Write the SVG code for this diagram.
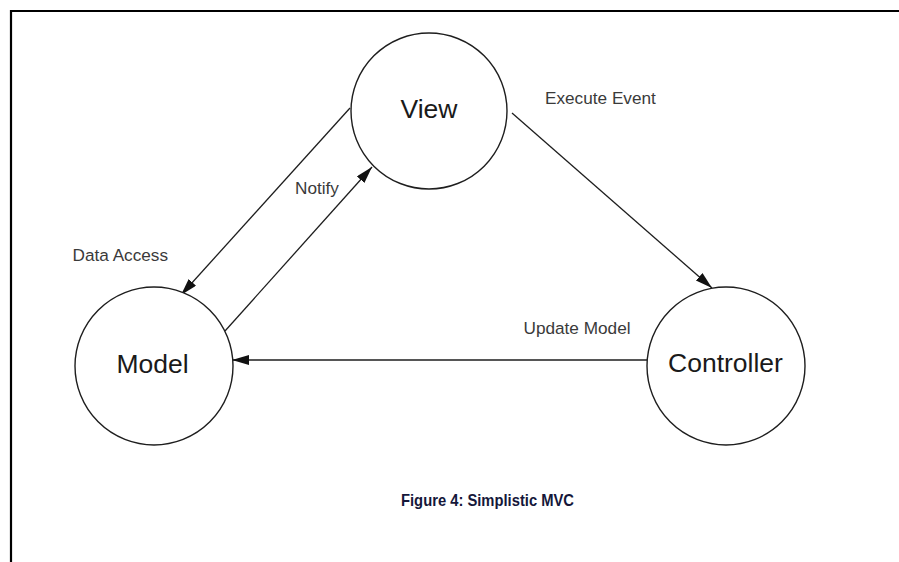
<svg xmlns="http://www.w3.org/2000/svg" width="899" height="562" viewBox="0 0 899 562">
  <style>
    .node circle { fill: #ffffff; stroke: #1e1e1e; stroke-width: 1.4; }
    .node text { font-family: "Liberation Sans", Arial, sans-serif; font-size: 26.5px; fill: #1a1a1a; text-anchor: middle; }
    .edges line { stroke: #1e1e1e; stroke-width: 1.3; marker-end: url(#arrow); }
    .label { font-family: "Liberation Sans", Arial, sans-serif; font-size: 17.2px; fill: #3a3a3a; }
    .frame { stroke: #000000; stroke-width: 2.2; fill: none; }
    .caption { font-family: "Liberation Sans Narrow", "Liberation Sans", Arial, sans-serif; font-weight: bold; font-size: 17px; fill: #15173a; }
  </style>
  <defs>
    <marker id="arrow" markerUnits="userSpaceOnUse" markerWidth="18" markerHeight="12" refX="17" refY="5" orient="auto">
      <path d="M0,0 L17,5 L0,10 Z" fill="#111111"/>
    </marker>
  </defs>

  <rect width="899" height="562" fill="#ffffff"/>

  <!-- page frame: top and left rules -->
  <path class="frame" d="M11,562 V11 H899"/>

  <!-- connectors -->
  <g id="connectors" class="edges">
    <line id="data-access" x1="350" y1="108" x2="181" y2="295"/>
    <line id="notify" x1="225" y1="331" x2="372" y2="167"/>
    <line id="execute-event" x1="512" y1="113" x2="712" y2="288"/>
    <line id="update-model" x1="647" y1="360" x2="232" y2="360"/>
  </g>

  <!-- connector labels -->
  <text class="label" x="72.5" y="261">Data Access</text>
  <text class="label" x="295" y="194">Notify</text>
  <text class="label" x="545" y="104">Execute Event</text>
  <text class="label" x="523.5" y="334">Update Model</text>

  <!-- nodes -->
  <g id="view" class="node">
    <circle cx="429" cy="111" r="78"/>
    <text x="429" y="118">View</text>
  </g>
  <g id="model" class="node">
    <circle cx="154" cy="366" r="79"/>
    <text x="152.5" y="373">Model</text>
  </g>
  <g id="controller" class="node">
    <circle cx="726" cy="366" r="79"/>
    <text x="725.5" y="372">Controller</text>
  </g>

  <!-- caption -->
  <text class="caption" x="401" y="506" textLength="173" lengthAdjust="spacingAndGlyphs">Figure 4: Simplistic MVC</text>
</svg>
